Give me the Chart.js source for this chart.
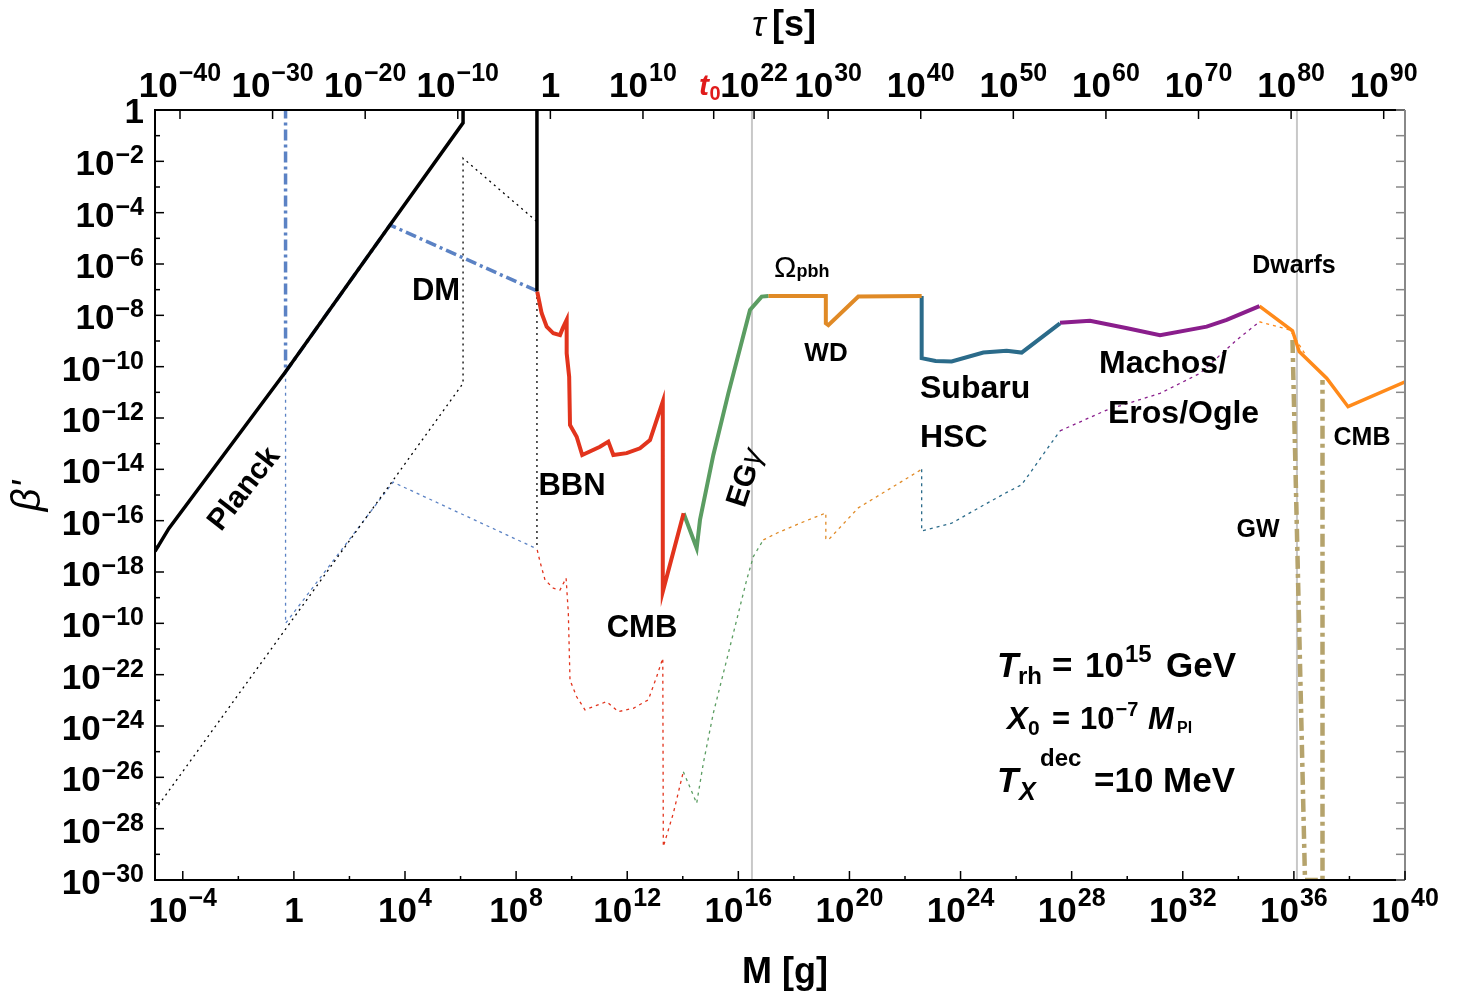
<!DOCTYPE html>
<html>
<head>
<meta charset="utf-8">
<script src="https://cdn.jsdelivr.net/npm/chart.js@4.4.1/dist/chart.umd.min.js"></script>
<style>
html,body{margin:0;padding:0;background:#fff}
</style>
</head>
<body>
<canvas id="chart" width="1459" height="1000"></canvas>
<script>
// all values are log10 exponents: M in g, beta'

// axis ranges
const logMmin = -5, logMmax = 40
const logBmin = -30, logBmax = 0
const tauMin = -42.7, tauMax = 92.3   // log10(tau/s) at the left / right edge

// tick labels
const xTickExps = [-4, 0, 4, 8, 12, 16, 20, 24, 28, 32, 36, 40]
const xMinorExps = [-2, 2, 6, 10, 14, 18, 22, 26, 30, 34, 38]
const yTickExps = [0, -2, -4, -6, -8, -10, -12, -14, -16, -18, -20, -22, -24, -26, -28, -30]
const yTickLabels = ["", "−2", "−4", "−6", "−8", "−10", "−12", "−14", "−16", "−18", "−10", "−22", "−24", "−26", "−28", "−30"]
const tauTickExps = [-40, -30, -20, -10, 0, 10, 22, 30, 40, 50, 60, 70, 80, 90]
const tauTickLabels = ["−40", "−30", "−20", "−10", "", "10", "22", "30", "40", "50", "60", "70", "80", "90"]
const tauAge = 17.64

// solid constraints
const planckM = [-5, -4.5, -0.3, 3.46, 6.09, 6.09]
const planckB = [-17.2, -16.3, -10.2, -4.48, -0.5, 0.1]
const evapM = [8.75, 8.75]
const evapB = [0.1, -7.05]
const dmM = [-0.3, -0.3, 3.46, 8.75]
const dmB = [0.1, -10.2, -4.48, -7.05]
const bbnM = [8.76, 8.92, 9.10, 9.34, 9.58, 9.68, 9.82, 9.82, 9.91, 9.94, 10.18, 10.38, 11.02, 11.32, 11.50, 11.98, 12.46, 12.82, 13.28, 13.28, 14.03]
const bbnB = [-7.08, -7.92, -8.44, -8.70, -8.77, -8.50, -8.18, -9.48, -10.39, -12.27, -12.73, -13.44, -13.12, -12.92, -13.44, -13.37, -13.18, -12.86, -11.36, -18.77, -15.71]
const egM = [14.03, 14.50, 14.62, 15.10, 15.64, 16.42, 16.84, 17.08]
const egB = [-15.71, -17.07, -15.97, -13.44, -11.04, -7.79, -7.27, -7.25]
const wdM = [17.08, 19.15, 19.15, 19.24, 20.32, 22.60]
const wdB = [-7.25, -7.25, -8.31, -8.38, -7.27, -7.25]
const hscM = [22.60, 22.60, 23.10, 23.68, 24.82, 25.66, 26.20, 27.58]
const hscB = [-7.25, -9.67, -9.78, -9.80, -9.45, -9.38, -9.45, -8.31]
const machoM = [27.58, 28.66, 30.00, 31.18, 32.86, 33.58, 34.76]
const machoB = [-8.29, -8.21, -8.50, -8.77, -8.44, -8.18, -7.64]
const dwarfM = [34.76, 35.95, 36.19, 37.18, 37.95, 40.03]
const dwarfB = [-7.64, -8.60, -9.41, -10.45, -11.56, -10.58]
const gwM = [35.95, 36.40, 37.03, 37.03]
const gwB = [-8.96, -30, -30, -10.52]

// dotted (shifted) constraints
const planckDotM = [-5, 6.09, 6.09, 8.75, 8.75]
const planckDotB = [-27.27, -10.65, -1.88, -4.35, -17.1]
const dmDotM = [-0.3, -0.3, 3.57, 8.75]
const dmDotB = [-10.2, -20.0, -14.5, -17.1]
const bbnDotM = [8.76, 8.86, 9.04, 9.34, 9.58, 9.80, 9.88, 9.94, 10.18, 10.48, 11.26, 11.68, 12.22, 12.76, 13.06, 13.28, 13.30, 13.66, 14.02]
const bbnDotB = [-17.14, -17.60, -18.31, -18.63, -18.70, -18.24, -19.61, -22.21, -22.86, -23.37, -23.05, -23.44, -23.31, -22.98, -22.08, -21.36, -28.70, -27.40, -25.78]
const egDotM = [14.02, 14.50, 14.74, 15.10, 15.70, 16.30, 16.54, 16.90]
const egDotB = [-25.78, -27.01, -25.45, -23.50, -20.91, -18.31, -17.40, -16.75]
const wdDotM = [16.90, 17.38, 18.22, 19.15, 19.15, 19.24, 20.32, 22.60]
const wdDotB = [-16.75, -16.49, -16.10, -15.70, -16.70, -16.75, -15.50, -14.00]
const hscDotM = [22.60, 22.60, 23.68, 24.82, 25.66, 26.20, 27.58]
const hscDotB = [-14.00, -16.40, -16.10, -15.40, -14.90, -14.60, -12.50]
const machoDotM = [27.58, 29.26, 31.18, 32.62, 33.94, 34.76]
const machoDotB = [-12.50, -11.69, -11.04, -10.26, -8.96, -8.25]
const dwarfDotM = [34.76, 35.86, 36.46]
const dwarfDotB = [-8.25, -8.57, -9.61]

const markerM = [16.49, 36.11]

const FONT = '"Liberation Sans", Arial, sans-serif'

function pts(ms, bs) {
  return ms.map((m, i) => ({ x: 10 ** m, y: 10 ** bs[i] }))
}

function curve(label, ms, bs, color, width, dash) {
  return {
    label: label,
    data: pts(ms, bs),
    showLine: true,
    borderColor: color,
    backgroundColor: color,
    borderWidth: width,
    borderDash: dash || [],
    pointRadius: 0,
    tension: 0,
    fill: false
  }
}

const datasets = [
  curve("Planck", planckM, planckB, "#000000", 3.5),
  curve("evap", evapM, evapB, "#000000", 3.5),
  curve("DM", dmM, dmB, "#5b82c4", 3.5, [11, 4, 3, 4]),
  curve("BBN/CMB", bbnM, bbnB, "#e2341d", 4),
  curve("EGgamma", egM, egB, "#5b9d62", 4),
  curve("WD", wdM, wdB, "#e08a26", 4),
  curve("HSC", hscM, hscB, "#2b6b8a", 4),
  curve("Machos", machoM, machoB, "#8a1e8c", 4),
  curve("Dwarfs", dwarfM, dwarfB, "#ff8a1a", 3.5),
  curve("GW", gwM, gwB, "#b5a36c", 4.5, [13, 5, 4, 5]),
  curve("Planck dot", planckDotM, planckDotB, "#000000", 1.3, [2, 4]),
  curve("DM dot", dmDotM, dmDotB, "#5b82c4", 1.3, [3, 4]),
  curve("BBN dot", bbnDotM, bbnDotB, "#e2341d", 1.3, [3, 4]),
  curve("EG dot", egDotM, egDotB, "#5b9d62", 1.3, [3, 4]),
  curve("WD dot", wdDotM, wdDotB, "#e08a26", 1.3, [3, 4]),
  curve("HSC dot", hscDotM, hscDotB, "#2b6b8a", 1.3, [3, 4]),
  curve("Macho dot", machoDotM, machoDotB, "#8a1e8c", 1.3, [3, 4]),
  curve("Dwarf dot", dwarfDotM, dwarfDotB, "#ff8a1a", 1.3, [3, 4])
]
for (const m of markerM) {
  datasets.push(curve("marker", [m, m], [logBmin, logBmax], "#c8c8c8", 2))
}

function powText(ctx, base, sup, x, y, align, bs, ss, rise) {
  ctx.font = "bold " + bs + "px " + FONT
  const w1 = ctx.measureText(base).width
  ctx.font = "bold " + ss + "px " + FONT
  const w2 = sup ? ctx.measureText(sup).width + 1 : 0
  const w = w1 + w2
  let x0 = x
  if (align === "right") x0 = x - w
  if (align === "center") x0 = x - w / 2
  ctx.textAlign = "left"
  ctx.font = "bold " + bs + "px " + FONT
  ctx.fillText(base, x0, y)
  if (sup) {
    ctx.font = "bold " + ss + "px " + FONT
    ctx.fillText(sup, x0 + w1 + 1, y - rise)
  }
}

function txt(ctx, s, x, y, font, align) {
  ctx.font = font
  ctx.textAlign = align || "center"
  ctx.fillText(s, x, y)
}

const framePlugin = {
  id: "frame",
  afterDraw(chart) {
    const ctx = chart.ctx
    const a = chart.chartArea
    const xs = chart.scales.x
    const ys = chart.scales.y
    const ts = chart.scales.tau
    ctx.save()
    ctx.textBaseline = "alphabetic"
    ctx.fillStyle = "#000"

    // frame
    ctx.lineWidth = 2
    ctx.strokeStyle = "#000"
    ctx.beginPath()
    ctx.moveTo(a.right, a.top); ctx.lineTo(a.left, a.top); ctx.lineTo(a.left, a.bottom); ctx.lineTo(a.right, a.bottom)
    ctx.stroke()
    ctx.strokeStyle = "#888"
    ctx.beginPath()
    ctx.moveTo(a.right, a.top); ctx.lineTo(a.right, a.bottom)
    ctx.stroke()

    // y ticks, every decade
    ctx.lineWidth = 1.5
    for (let e = logBmax; e >= logBmin; e--) {
      const y = ys.getPixelForValue(10 ** e)
      const len = e % 2 === 0 ? 9 : 5
      ctx.strokeStyle = "#000"
      ctx.beginPath(); ctx.moveTo(a.left, y); ctx.lineTo(a.left + len, y); ctx.stroke()
      ctx.strokeStyle = "#888"
      ctx.beginPath(); ctx.moveTo(a.right, y); ctx.lineTo(a.right - 9, y); ctx.stroke()
    }
    // y labels
    yTickExps.forEach((e, i) => {
      const y = ys.getPixelForValue(10 ** e)
      if (e === 0) powText(ctx, "1", "", 144, y + 13, "right", 35, 25, 0)
      else powText(ctx, "10", yTickLabels[i], 144, y + 14, "right", 35, 25, 12)
    })

    // bottom ticks
    ctx.strokeStyle = "#000"
    for (const e of xTickExps) {
      const x = xs.getPixelForValue(10 ** e)
      ctx.beginPath(); ctx.moveTo(x, a.bottom); ctx.lineTo(x, a.bottom - 9); ctx.stroke()
      if (e === 0) powText(ctx, "1", "", x, 922, "center", 35, 25, 0)
      else powText(ctx, "10", e < 0 ? "−" + (-e) : String(e), x, 922, "center", 35, 25, 16)
    }
    for (const e of xMinorExps) {
      const x = xs.getPixelForValue(10 ** e)
      ctx.beginPath(); ctx.moveTo(x, a.bottom); ctx.lineTo(x, a.bottom - 4); ctx.stroke()
    }

    // top (lifetime) ticks
    tauTickExps.forEach((t, i) => {
      const x = ts.getPixelForValue(t)
      ctx.beginPath(); ctx.moveTo(x, a.top); ctx.lineTo(x, a.top + 9); ctx.stroke()
      if (t === 0) powText(ctx, "1", "", x, 97, "center", 35, 25, 0)
      else powText(ctx, "10", tauTickLabels[i], x, 97, "center", 35, 25, 16)
    })
    const xAge = ts.getPixelForValue(tauAge)
    ctx.beginPath(); ctx.moveTo(xAge, a.top); ctx.lineTo(xAge, a.top + 9); ctx.stroke()
    ctx.fillStyle = "#e01b1b"
    txt(ctx, "t", 704, 95, "italic bold 30px " + FONT, "center")
    txt(ctx, "0", 715, 100, "bold 20px " + FONT, "center")
    ctx.fillStyle = "#000"

    // axis titles
    txt(ctx, "M [g]", 785, 983, "bold 36px " + FONT)
    ctx.font = "italic 36px " + FONT
    ctx.textAlign = "left"
    ctx.fillText("τ", 752, 36)
    txt(ctx, "[s]", 772, 36, "bold 36px " + FONT, "left")
    ctx.save()
    ctx.translate(40, 496)
    ctx.rotate(-Math.PI / 2)
    txt(ctx, "β'", 0, 0, "italic 40px " + FONT)
    ctx.restore()

    // curve labels
    ctx.save()
    ctx.translate(243, 488)
    ctx.rotate(-52 * Math.PI / 180)
    txt(ctx, "Planck", 0, 10, "bold 30px " + FONT)
    ctx.restore()

    txt(ctx, "DM", 436, 300, "bold 31px " + FONT)
    txt(ctx, "BBN", 572, 495, "bold 31px " + FONT)
    txt(ctx, "CMB", 642, 637, "bold 31px " + FONT)

    ctx.save()
    ctx.translate(744, 478)
    ctx.rotate(-72 * Math.PI / 180)
    ctx.font = "bold 30px " + FONT
    const wEG = ctx.measureText("EG").width
    ctx.font = "italic 30px " + FONT
    const wG = ctx.measureText("γ").width
    txt(ctx, "EG", -(wEG + wG) / 2, 10, "bold 30px " + FONT, "left")
    txt(ctx, "γ", -(wEG + wG) / 2 + wEG + 1, 10, "italic 30px " + FONT, "left")
    ctx.restore()

    ctx.font = "30px " + FONT
    const wOm = ctx.measureText("Ω").width
    txt(ctx, "Ω", 774, 277, "30px " + FONT, "left")
    txt(ctx, "pbh", 774 + wOm, 277, "bold 18px " + FONT, "left")
    txt(ctx, "WD", 826, 361, "bold 26px " + FONT)
    txt(ctx, "Subaru", 920, 398, "bold 32px " + FONT, "left")
    txt(ctx, "HSC", 920, 447, "bold 32px " + FONT, "left")
    txt(ctx, "Machos/", 1099, 373, "bold 32px " + FONT, "left")
    txt(ctx, "Eros/Ogle", 1108, 423, "bold 32px " + FONT, "left")
    txt(ctx, "Dwarfs", 1294, 273, "bold 25px " + FONT)
    txt(ctx, "GW", 1258, 537, "bold 25px " + FONT)
    txt(ctx, "CMB", 1362, 445, "bold 25px " + FONT)

    // parameter box
    txt(ctx, "T", 997, 677, "italic bold 35px " + FONT, "left")
    txt(ctx, "rh", 1018, 684, "bold 24px " + FONT, "left")
    txt(ctx, "=", 1052, 677, "bold 35px " + FONT, "left")
    powText(ctx, "10", "15", 1085, 677, "left", 35, 24, 15)
    txt(ctx, "GeV", 1166, 677, "bold 35px " + FONT, "left")

    txt(ctx, "X", 1007, 729, "italic bold 31px " + FONT, "left")
    txt(ctx, "0", 1028, 735, "bold 21px " + FONT, "left")
    txt(ctx, "=", 1052, 729, "bold 31px " + FONT, "left")
    powText(ctx, "10", "−7", 1080, 729, "left", 31, 20, 13)
    txt(ctx, "M", 1148, 729, "italic bold 31px " + FONT, "left")
    txt(ctx, "Pl", 1177, 733, "bold 16px " + FONT, "left")

    txt(ctx, "T", 997, 792, "italic bold 35px " + FONT, "left")
    txt(ctx, "X", 1019, 800, "italic bold 25px " + FONT, "left")
    txt(ctx, "dec", 1040, 766, "bold 24px " + FONT, "left")
    txt(ctx, "=10 MeV", 1094, 792, "bold 35px " + FONT, "left")

    ctx.restore()
  }
}

new Chart(document.getElementById("chart").getContext("2d"), {
  type: "scatter",
  data: { datasets: datasets },
  options: {
    responsive: false,
    animation: false,
    devicePixelRatio: 1,
    layout: { padding: { left: 155, top: 110, right: 54, bottom: 120 } },
    plugins: { legend: { display: false }, tooltip: { enabled: false } },
    scales: {
      x: { type: "logarithmic", min: 10 ** logMmin, max: 10 ** logMmax, display: false },
      y: { type: "logarithmic", min: 10 ** logBmin, max: 10 ** logBmax, display: false },
      tau: { type: "linear", axis: "x", position: "top", min: tauMin, max: tauMax, display: false }
    }
  },
  plugins: [framePlugin]
})
</script>
</body>
</html>
